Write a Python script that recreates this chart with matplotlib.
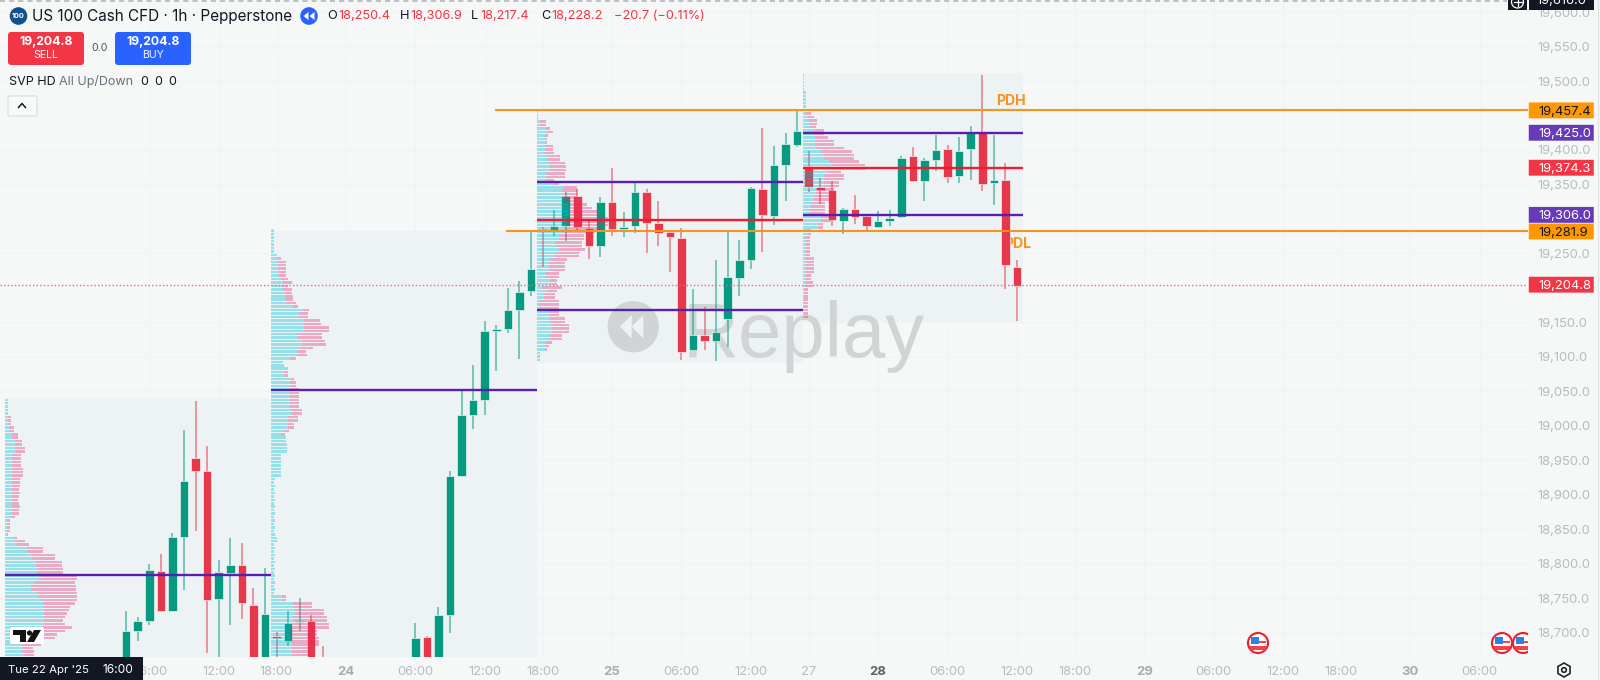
import numpy as np
import matplotlib
matplotlib.use("Agg")
import matplotlib.pyplot as plt
from matplotlib.patches import Rectangle, FancyBboxPatch, Circle, RegularPolygon, Polygon
from matplotlib.transforms import blended_transform_factory

plt.rcParams['font.family'] = ['Inter', 'DejaVu Sans']

# ---------- data ----------
bar_i = [-13,-12,-11,-10,-9,-8,-7,-6,-5,-4,-3,-2,-1,0,1,2,3,4,
         12,13,14,15,16,17,18,19,20,21,22,23,24,25,26,27,28,29,30,31,32,33,34,35,36,37,38,39,40,41,42,43,44,45,
         46,47,48,49,50,51,52,53,54,55,56,57,58,59,60,61,62,63,64]
opens = [18650,18703.4,18717.9,18790.4,18732.4,18839.6,18953.7,18935.3,18748.8,18787,18799,18740.6,18650,18695,18688.9,18716,18717.9,18650,
         18650,18693.7,18650,18726.6,18928,19015.6,19038.3,19137.4,19140.8,19167.8,19196.3,19285.7,19283.3,19290.5,19333,19286.6,19261,19324.3,19285.7,19290.5,19339.3,19294.8,19281.3,19273.1,19110.8,19132.5,19122.8,19155.2,19214.1,19241.2,19343.7,19305,19378.4,19407.9,
         19377,19346,19342.2,19297.8,19314.2,19304,19289,19297.3,19303.6,19391,19354.8,19386.2,19402.1,19363,19401.2,19424.8,19352.4,19356.7,19231]
highs = [18731.4,18723.7,18800,18814.5,18844.5,18994.3,19036.8,18971.1,18806.3,18837.7,18831,18765,18794.7,18701,18732.4,18750.7,18726.6,18681.6,
         18714,18696,18738.2,18935.3,19053.8,19089,19152.8,19147,19200.2,19210.8,19283.3,19289,19313.2,19339,19343.7,19297.7,19331.6,19374,19310.8,19353.3,19343.7,19326.7,19282,19287.6,19198.7,19172.1,19240.7,19283.3,19270.2,19346,19432,19405.5,19424.3,19455.8,
         19398.3,19359.6,19355.7,19316.1,19335.5,19306.5,19312.3,19313.7,19392,19404.1,19388.1,19422.4,19407.4,19418.6,19435.5,19508,19422.4,19380.9,19240.7]
lows = [18640,18688.9,18712.1,18732.4,18731.4,18762.3,18847.4,18671,18640,18711.6,18719.8,18640,18640,18640,18681.6,18702.4,18640,18630,
        18640,18640,18640,18699.5,18925.7,18995.8,19016.1,19079.4,19134.5,19096.8,19189,19231,19276,19268.8,19280.8,19241.7,19244.6,19276,19273.6,19279.9,19251.4,19260.5,19223.3,19095.8,19110.8,19110.8,19094.8,19114.1,19189,19227.7,19252.8,19292,19325.8,19404,
        19338.8,19322,19290.5,19278.4,19292.9,19281.8,19288,19290.5,19302,19354.8,19326.8,19369.3,19351.9,19351.9,19356.7,19341.3,19320.5,19198.7,19152.8]
closes = [18703.4,18717.9,18791.3,18732.4,18838.7,18920.8,18934.4,18748.3,18788.4,18799,18743,18650,18727.6,18693,18714.5,18717,18650,18640,
          18692.3,18650,18726.6,18927.1,19016.6,19037.8,19137.4,19140.8,19167.8,19194.4,19227.3,19283.3,19290.5,19334,19288,19261,19324.3,19286.2,19289,19338.8,19294.8,19280.4,19273.6,19106.9,19132.5,19122.8,19136.4,19215.6,19240.7,19344.6,19306,19378,19408.9,19427.2,
          19346,19342.7,19299.2,19314.2,19302.6,19289.5,19297.3,19301.6,19388.1,19354.8,19385.7,19400.2,19361.5,19399.2,19424.8,19351.4,19357.2,19234,19203.5]

# session volume profiles: up volume and up+down volume per 5-point row, top row first
p1_top = 19038
p1_up = [3,3,3,3,3, 3,3,3,4.5,4.5, 7,7,10,10,10, 10,7,7,7,7, 7,7,7,7,7, 7,7,7,7,7, 7,7,7,7,7,
         2.4,2.4,2.4,2.4,2, 8,10,12,22,22, 27,27,31,31,32, 32,34,34,30,26, 26,33,33,36,38, 39,39,39,39,39, 39,37,30,22,22, 17,17,17,17,19]
p1_all = [3,3,3,3,3, 6,6,6,9,9, 13,13,17,17,20, 20,16,16,16,16, 18,18,18,15,15, 15,14,15,14,13, 14,15,14,14,10,
          5,5,5,5,3, 12,20,24,38,38, 50,50,57,57,58, 58,72,72,70,71, 71,72,72,72,70, 65,64,62,60,58, 60,67,60,52,50, 38,36,28,29,29]

p2_top = 19283
p2_up = [3,3,3,3,3,3,3,6,7,7, 7,7,7,7,10,12,10,12,13,14, 14,15,22,33,28,27,33,33,33,33,
         26,26,31,31,28,26,26,19,12,12, 17,13,13,20,19,19,19,19,19,19, 19,19,20,20,17,17,17,17,13,10,
         15,15,16,16,16,10,10,10,10,10, 10,10,4,3,4,3,4,3,4,3, 4,3,4,3,4,3,4,3,4,6,
         6,3,4,3,4,3,4,3,4,3, 4,3,4,3,4,3,11,11,22,22, 24,24,22,22,21,21,19,19,21,21, 21,21,21,21,21]
p2_all = [3,3,3,3,3,3,3,6,10,15, 15,15,15,15,17,21,17,21,21,22, 22,25,27,38,37,37,49,50,58,58,
          51,51,54,55,42,35,36,25,12,13, 17,17,17,23,25,25,28,28,28,28, 28,28,31,31,27,27,23,23,18,14,
          15,15,16,16,16,10,10,10,10,10, 10,10,4,3,4,3,4,3,4,3, 4,3,4,3,4,3,4,3,4,6,
          6,3,4,3,4,3,4,3,4,3, 4,3,4,3,4,3,15,15,41,41, 53,53,56,56,58,58,46,46,48,48, 48,40,40,40,40]

p3_top = 19456
p3_up = [1,1,1,3,3,8,10,8,9,9, 8,8,7,10,10,12,12,12,9,9, 9,17,27,25,25,27,27,31,32,33,
         33,30,30,30,28,26,22,22,18,18, 22,18,18,13,12,12,12,8,8,13, 13,5,10,7,7,2,2,2,12,12,
         13,13,15,15,15,12,12,8,8,8, 2,2,2]
p3_all = [1,1,1,9,9,13,16,11,10,10, 16,16,17,23,23,28,29,29,28,28, 17,22,40,40,40,40,40,50,55,60,
          62,71,71,71,65,58,47,47,45,45, 48,42,42,30,28,28,28,22,22,20, 20,25,20,18,18,22,22,22,22,22,
          28,28,32,32,32,25,25,15,12,10, 3,3,3]

p4_top = 19508
p4_up = [1,1,1,1,1,3,3,3,3,3, 3,3,5,6,6,6,11,11,12,12, 12,13,18,21,21,26,30,30,25,21,
         21,21,21,13,13,11,11,8,8,6, 6,18,18,15,15,5,5,3,3,3, 3,3,3,3,3,3,3,3,3,3,
         3,3,1,1,1,1,1,1,1,1,1]
p4_all = [1,1,1,1,1,3,3,3,3,3, 3,8,11,14,14,13,21,21,25,31, 31,41,49,51,51,56,62,62,38,41,
          41,36,36,31,31,26,26,22,22,22, 22,28,28,20,20,8,8,7,7,7, 7,7,7,11,11,11,11,11,8,8,
          10,10,5,5,5,5,5,5,5,5,5]

# session boxes: first bar edge, last bar edge, top price, bottom price
sessions = [(-23.5, -0.5, 19041, 18600), (-0.5, 22.5, 19283.3, 18600),
            (22.5, 45.5, 19457.4, 19091.5), (45.5, 64.5, 19511, 19151)]
profiles = [(p1_top, p1_up, p1_all), (p2_top, p2_up, p2_all), (p3_top, p3_up, p3_all), (p4_top, p4_up, p4_all)]

# level lines: start bar, end bar, price
purple_lines = [(-23.5, -0.5, 18783.8), (-0.5, 22.5, 19052.8), (22.5, 45.5, 19353.8), (22.5, 45.5, 19168.3),
                (45.5, 64.5, 19425.0), (45.5, 64.5, 19306.0)]
red_lines = [(22.5, 45.5, 19299.2), (45.5, 64.5, 19374.3)]
pdh, pdl, last_price = 19457.4, 19281.9, 19204.8

tag_values = [19457.4, 19425.0, 19374.3, 19306.0, 19281.9, 19204.8]
tag_labels = ['19,457.4', '19,425.0', '19,374.3', '19,306.0', '19,281.9', '19,204.8']
tag_colors = ['#ff9800', '#673ab7', '#f23645', '#673ab7', '#ff9800', '#f23645']
tag_text = ['#131722', 'white', 'white', 'white', '#131722', 'white']

y_ticks = [18700,18750,18800,18850,18900,18950,19000,19050,19100,19150,19250,19350,19400,19500,19550,19600]
x_ticks = [-11,-5,0,6,12,18,23,29,35,41,46,52,58,64,69,75,81,87,92,98,104]
x_labels = ['06:00','12:00','18:00','24','06:00','12:00','18:00','25','06:00','12:00','27','28','06:00','12:00','18:00','29','06:00','12:00','18:00','30','06:00']
bold_ticks = ['24','25','28','29','30']

# ---------- style ----------
BG = '#f6f7f7'; BOX = '#edf3f5'; GREEN = '#089981'; RED = '#e5384b'
TXT = '#b8bcc0'; PURPLE = '#5b1fae'; ORANGE = '#f7941d'; DARK = '#131722'; WM = '#d0d4d5'

fig = plt.figure(figsize=(16, 6.8), dpi=100, facecolor=BG)
W, H, AXR, AXB = 1600, 680, 1528, 657
ax = fig.add_axes([0, (H-AXB)/H, AXR/W, AXB/H], facecolor=BG)
BAR_PX = 11.57
ax.set_xlim(-276.5/BAR_PX, (AXR-276.5)/BAR_PX)
ax.set_ylim(19500-(AXB-81)*1.4493, 19500+81*1.4493)
for s in ax.spines.values():
    s.set_visible(False)

ax.yaxis.tick_right()
ax.set_yticks(y_ticks)
ax.set_yticklabels([f'{v:,.1f}' for v in y_ticks], color=TXT, fontsize=9.4, ha='left')
ax.tick_params(axis='y', length=0, pad=7)
ax.set_xticks(x_ticks)
ax.set_xticklabels(x_labels, fontsize=9.4, color=TXT)
ax.tick_params(axis='x', length=0, pad=6.8)
for t in ax.get_xticklabels():
    if t.get_text() in bold_ticks:
        t.set_fontweight('bold')
        t.set_color('#5d6168' if t.get_text() == '28' else '#a9adb2')
ax.grid(True, color='#f2f4f4', lw=0.8, zorder=0)
ax.set_axisbelow(True)

# interface layer, in pixels
ui = fig.add_axes([0, 0, 1, 1], facecolor='none', zorder=10)
ui.set_xlim(0, W); ui.set_ylim(H, 0); ui.axis('off')

# session background boxes
for x0, x1, top, bot in sessions:
    ax.add_patch(Rectangle((x0, bot), x1-x0, top-bot, facecolor=BOX, edgecolor='none', zorder=1))

# replay watermark, under the candles
ax.text(683, 357, 'Replay', transform=ui.transData, fontsize=56, color=WM, family='Liberation Sans',
        ha='left', va='baseline', zorder=1.5)
ax.add_patch(Circle((633.3, 326.7), 25.7, facecolor=WM, edgecolor='none', transform=ui.transData, zorder=1.5))
ax.add_patch(Polygon([[620, 326.7], [631.7, 315], [631.7, 338.5]], facecolor=BOX, transform=ui.transData, zorder=1.6))
ax.add_patch(Polygon([[631.7, 326.7], [643.3, 315], [643.3, 338.5]], facecolor=BOX, transform=ui.transData, zorder=1.6))

# candles
bi = np.array(bar_i, float); o = np.array(opens); h = np.array(highs); l = np.array(lows); c = np.array(closes)
up = c >= o
cols = np.where(up, GREEN, RED)
ax.vlines(bi[up], l[up], h[up], color=GREEN, lw=1.3, alpha=0.55, zorder=3)
ax.vlines(bi[~up], l[~up], h[~up], color=RED, lw=1.3, alpha=0.55, zorder=3)
ax.bar(bi, np.abs(c-o), bottom=np.minimum(o, c), width=0.74, color=cols, edgecolor='white', linewidth=0.4, zorder=3.2)

# volume profiles
for (x0, x1, _, _), (top, ups, alls) in zip(sessions, profiles):
    ups = np.array(ups, float); alls = np.array(alls, float)
    lv = top - 5*np.arange(len(ups))
    ax.barh(lv, ups/BAR_PX, left=x0, height=3.6, color='#00bcd4', alpha=0.36, lw=0, zorder=4)
    ax.barh(lv, (alls-ups)/BAR_PX, left=x0+ups/BAR_PX, height=3.6, color='#e91e63', alpha=0.34, lw=0, zorder=4)

# level lines
for x0, x1, p in purple_lines:
    ax.plot([x0, x1], [p, p], color=PURPLE, lw=1.7, zorder=5, solid_capstyle='butt')
for x0, x1, p in red_lines:
    ax.plot([x0, x1], [p, p], color='#f01c2c', lw=1.7, zorder=5, solid_capstyle='butt')
ax.plot([19.0, 200], [pdh, pdh], color=ORANGE, lw=1.5, zorder=5)
ax.plot([19.9, 200], [pdl, pdl], color=ORANGE, lw=1.5, zorder=5)
ax.axhline(last_price, color='#ef6a7c', lw=1.0, ls=(0, (1, 1.6)), zorder=5)
ax.text(63.45, pdh+13, 'PDH', color=ORANGE, fontsize=10.2, fontweight='bold', ha='center', va='center', zorder=2.9)
ax.text(64.1, pdl-18, 'PDL', color=ORANGE, fontsize=10.2, fontweight='bold', ha='center', va='center', zorder=2.9)

# price tags
tr = blended_transform_factory(ax.transAxes, ax.transData)
for v, lab, col, tc in zip(tag_values, tag_labels, tag_colors, tag_text):
    ax.add_patch(FancyBboxPatch((1.0005, v-11.5), 65/AXR, 23, boxstyle='round,pad=0,rounding_size=0.0008', transform=tr,
                                facecolor=col, edgecolor='none', clip_on=False, zorder=10, mutation_aspect=100))
    ax.text(1.0066, v, lab, transform=tr, color=tc, fontsize=9.4, va='center_baseline', ha='left', clip_on=False, zorder=11)

# ---------- interface chrome ----------
ui.plot([0, 1507], [1, 1], color='#b4b6b8', lw=1.2, ls=(0, (3, 2.5)))
ui.plot([1598, 1598], [0, H], color='#dfe1e3', lw=0.8)

# header
ui.add_patch(Circle((18.5, 16), 8.8, facecolor='#14508f'))
ui.text(18.5, 16.2, '100', color='white', fontsize=5.2, ha='center', va='center', fontweight='bold')
ui.text(31.5, 16, 'US 100 Cash CFD · 1h · Pepperstone', color=DARK, fontsize=11, ha='left', va='center')
ui.add_patch(Circle((309, 16), 8.8, facecolor='#2962ff'))
ui.add_patch(Polygon([[303.5, 16], [308.5, 12], [308.5, 20]], facecolor='white'))
ui.add_patch(Polygon([[309.5, 16], [314.5, 12], [314.5, 20]], facecolor='white'))
for x, letter, xv, val in [(327, 'O', 338, '18,250.4'), (400, 'H', 410, '18,306.9'),
                           (470.5, 'L', 480, '18,217.4'), (541, 'C', 551, '18,228.2')]:
    ui.text(x, 16, letter, color=DARK, fontsize=9.2, ha='left', va='center')
    ui.text(xv, 16, val, color='#f23645', fontsize=9.2, ha='left', va='center')
ui.text(613.5, 16, '−20.7 (−0.11%)', color='#f23645', fontsize=9.2, ha='left', va='center')

# trade buttons
for x0, x1, col, lab in [(8, 84, '#f23645', 'SELL'), (115, 191, '#2962ff', 'BUY')]:
    ui.add_patch(FancyBboxPatch((x0+3, 35), x1-x0-6, 27, boxstyle='round,pad=3', facecolor=col, edgecolor='none'))
    ui.text((x0+x1)/2, 42, '19,204.8', color='white', fontsize=8.8, fontweight='bold', ha='center', va='center')
    ui.text((x0+x1)/2, 55.5, lab, color='#f6f7f9', fontsize=7.6, ha='center', va='center')
ui.text(99.5, 48, '0.0', color='#50535e', fontsize=7.6, ha='center', va='center')
ui.text(9, 82, 'SVP HD', color=DARK, fontsize=9, ha='left', va='center')
ui.text(59, 82, 'All Up/Down', color='#6a6d78', fontsize=9, ha='left', va='center')
for x in [140, 154.5, 168.5]:
    ui.text(x, 82, '0', color=DARK, fontsize=9, ha='left', va='center')
ui.add_patch(FancyBboxPatch((10, 98), 25, 16, boxstyle='round,pad=2', facecolor='#f8f9f9', edgecolor='#dcdee0', lw=0.9))
ui.plot([18.5, 22, 25.5], [107.5, 103.5, 107.5], color=DARK, lw=1.1)

# top right marker
ui.add_patch(Rectangle((1508, -5), 19, 15, facecolor=DARK, edgecolor='none'))
ui.add_patch(Circle((1517.5, 2), 6, facecolor='none', edgecolor='white', lw=0.9))
ui.plot([1517.5, 1517.5], [-2, 6], color='white', lw=0.9); ui.plot([1513.5, 1521.5], [2, 2], color='white', lw=0.9)
ui.add_patch(Rectangle((1529, -5), 65, 15, facecolor=DARK, edgecolor='none'))
ui.text(1561.5, 1.5, '19,616.0', color='white', fontsize=9.4, ha='center', va='center', clip_on=True)

# date box
ui.add_patch(Rectangle((0, 657), 143, 23, facecolor=DARK, edgecolor='none'))
ui.text(8.5, 670, "Tue 22 Apr '25", color='white', fontsize=8.2, ha='left', va='center')
ui.text(102.5, 670, '16:00', color='white', fontsize=8.6, ha='left', va='center')

# logo
ui.add_patch(FancyBboxPatch((12, 629), 30, 13, boxstyle='round,pad=2', facecolor='white', edgecolor='none'))
ui.add_patch(Polygon([[13, 630], [26, 630], [26, 642], [20, 642], [20, 635], [13, 635]], facecolor='#131313'))
ui.add_patch(Circle((29.5, 633), 2.6, facecolor='#131313'))
ui.add_patch(Polygon([[34, 630], [41, 630], [34, 642], [27, 642]], facecolor='#131313'))

# settings icon
ui.add_patch(RegularPolygon((1564, 670), 6, radius=7, facecolor='none', edgecolor='#23262d', lw=1.2))
ui.add_patch(Circle((1564, 670), 2.3, facecolor='none', edgecolor='#23262d', lw=1.2))

# event flags
clip = Rectangle((0, 0), 1528, 680, transform=ui.transData)
for fx in [1258, 1502, 1523]:
    parts = [Circle((fx, 643), 10, facecolor='white', edgecolor='#f01c2c', lw=1.5),
             Rectangle((fx-8, 646), 16, 3.5, facecolor='#f0434f', edgecolor='none'),
             Rectangle((fx+0.5, 640.5), 7.5, 2.5, facecolor='#f0434f', edgecolor='none'),
             Rectangle((fx-7.5, 636.5), 8, 7.5, facecolor='#2f80e6', edgecolor='none')]
    for p in parts:
        ui.add_patch(p)
        p.set_clip_path(clip)

fig.savefig('out.png', dpi=100, facecolor=BG)
